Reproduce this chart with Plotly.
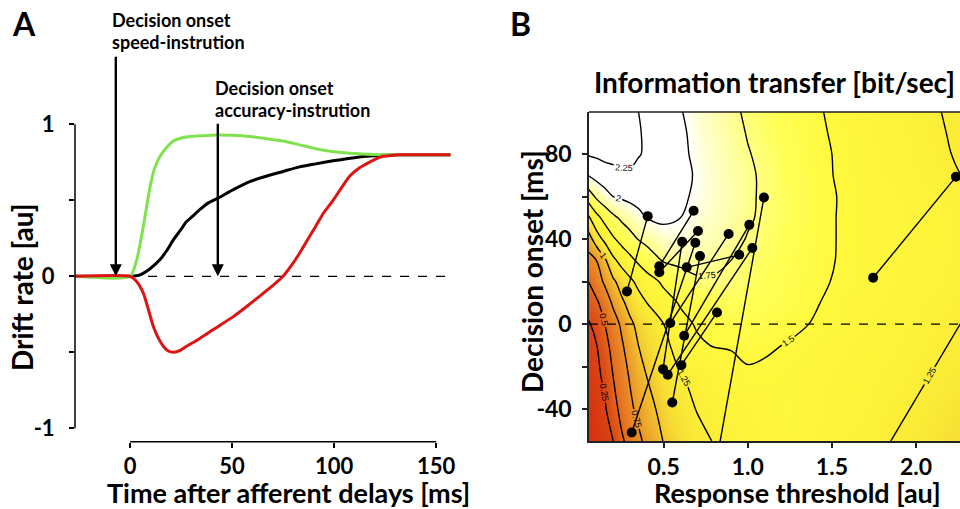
import plotly.graph_objects as go

# ---------------- Panel A data: drift rate over time ----------------
green_t = [-27, 0, 3.3, 6.5, 9.8, 12, 14.7, 18, 21.2, 25, 29.4, 35, 42.4, 50, 58.7, 67, 75, 83, 91, 100, 107.7, 116, 124, 132, 157]
green_v = [0, 0, 0.11, 0.33, 0.59, 0.71, 0.79, 0.85, 0.89, 0.91, 0.92, 0.925, 0.93, 0.928, 0.92, 0.905, 0.89, 0.865, 0.84, 0.82, 0.81, 0.803, 0.8, 0.8, 0.8]

black_t = [-27, 0, 4.9, 9.8, 14.7, 18, 21.2, 24.5, 27.7, 31, 34.3, 38, 42.4, 50.6, 58, 67, 75, 83, 91, 99.5, 107, 115.8, 124, 132, 157]
black_v = [0, 0, 0.01, 0.05, 0.11, 0.17, 0.24, 0.30, 0.36, 0.40, 0.44, 0.48, 0.51, 0.57, 0.62, 0.66, 0.69, 0.72, 0.74, 0.76, 0.775, 0.79, 0.797, 0.8, 0.8]

red_t = [-27, 0, 3, 6.5, 9, 11.4, 14, 16.3, 18.5, 21.2, 24, 27.7, 34, 40.8, 50.6, 57, 63.6, 70, 75, 79, 83, 87, 91, 95, 99.5, 104, 107.7, 112, 115.8, 120, 124, 128, 132, 140, 157]
red_v = [0, 0, -0.03, -0.11, -0.22, -0.33, -0.41, -0.46, -0.49, -0.5, -0.49, -0.46, -0.41, -0.35, -0.265, -0.2, -0.13, -0.06, 0, 0.07, 0.15, 0.24, 0.33, 0.42, 0.5, 0.59, 0.66, 0.71, 0.74, 0.77, 0.79, 0.795, 0.8, 0.8, 0.8]

onset_speed_ms = -7
onset_accuracy_ms = 43

a_xticks = [0, 50, 100, 150]
a_yticks = [-1, -0.5, 0, 0.5, 1]
a_yticklabels = ["-1", "", "0", "", "1"]

# ---------------- Panel B data: information transfer surface ----------------
threshold = [0.05, 0.1, 0.15, 0.2, 0.25, 0.3, 0.35, 0.4, 0.5, 0.6, 0.7, 0.8, 0.9, 1.0, 1.1, 1.25, 1.4, 1.55, 1.7, 1.85, 2.0, 2.15, 2.3]
onset = [-55, -40, -25, -10, 0, 10, 20, 30, 40, 50, 60, 70, 80, 90, 100]
info_m55 = [0.02, 0.10, 0.17, 0.25, 0.46, 0.59, 0.70, 0.81, 1.01, 1.10, 1.19, 1.26, 1.31, 1.36, 1.40, 1.44, 1.39, 1.34, 1.30, 1.25, 1.20, 1.15, 1.10]
info_m40 = [0.07, 0.15, 0.22, 0.40, 0.58, 0.70, 0.81, 0.92, 1.07, 1.17, 1.26, 1.30, 1.35, 1.39, 1.43, 1.47, 1.41, 1.37, 1.33, 1.28, 1.24, 1.18, 1.13]
info_m25 = [0.13, 0.20, 0.29, 0.50, 0.64, 0.77, 0.89, 1.00, 1.12, 1.24, 1.29, 1.34, 1.40, 1.48, 1.47, 1.45, 1.41, 1.38, 1.35, 1.31, 1.27, 1.23, 1.18]
info_m10 = [0.19, 0.24, 0.42, 0.58, 0.72, 0.86, 1.00, 1.07, 1.20, 1.33, 1.47, 1.51, 1.52, 1.53, 1.52, 1.49, 1.45, 1.41, 1.37, 1.34, 1.30, 1.26, 1.22]
info_0 = [0.22, 0.32, 0.50, 0.64, 0.79, 0.96, 1.05, 1.12, 1.25, 1.44, 1.52, 1.54, 1.56, 1.58, 1.57, 1.53, 1.49, 1.45, 1.40, 1.36, 1.32, 1.28, 1.24]
info_10 = [0.36, 0.46, 0.61, 0.79, 0.96, 1.07, 1.16, 1.25, 1.41, 1.52, 1.56, 1.61, 1.65, 1.64, 1.62, 1.57, 1.51, 1.46, 1.42, 1.38, 1.34, 1.30, 1.26]
info_20 = [0.49, 0.63, 0.79, 0.96, 1.09, 1.20, 1.31, 1.40, 1.54, 1.63, 1.72, 1.73, 1.72, 1.68, 1.64, 1.58, 1.53, 1.48, 1.44, 1.40, 1.37, 1.33, 1.29]
info_30 = [0.67, 0.75, 0.96, 1.20, 1.33, 1.44, 1.54, 1.63, 1.77, 1.81, 1.82, 1.79, 1.75, 1.71, 1.67, 1.60, 1.54, 1.49, 1.45, 1.41, 1.37, 1.34, 1.30]
info_40 = [0.87, 1.13, 1.31, 1.47, 1.58, 1.67, 1.76, 1.81, 1.91, 1.94, 1.91, 1.86, 1.80, 1.74, 1.69, 1.62, 1.55, 1.49, 1.45, 1.42, 1.38, 1.35, 1.31]
info_50 = [1.20, 1.42, 1.58, 1.70, 1.79, 1.86, 1.93, 2.00, 2.04, 2.00, 1.94, 1.89, 1.83, 1.77, 1.72, 1.64, 1.55, 1.49, 1.45, 1.42, 1.38, 1.35, 1.31]
info_60 = [1.60, 1.79, 1.90, 2.00, 2.03, 2.06, 2.09, 2.12, 2.09, 2.03, 1.97, 1.91, 1.85, 1.78, 1.72, 1.64, 1.56, 1.49, 1.45, 1.41, 1.37, 1.33, 1.29]
info_70 = [2.00, 2.08, 2.15, 2.18, 2.22, 2.23, 2.20, 2.17, 2.12, 2.05, 1.98, 1.91, 1.84, 1.78, 1.72, 1.63, 1.55, 1.48, 1.43, 1.38, 1.33, 1.29, 1.24]
info_80 = [2.27, 2.29, 2.31, 2.32, 2.31, 2.29, 2.26, 2.23, 2.14, 2.04, 1.96, 1.90, 1.83, 1.76, 1.71, 1.62, 1.54, 1.48, 1.42, 1.37, 1.32, 1.27, 1.22]
info_90 = [2.40, 2.40, 2.38, 2.35, 2.31, 2.28, 2.26, 2.23, 2.13, 2.03, 1.95, 1.88, 1.81, 1.74, 1.68, 1.61, 1.53, 1.47, 1.41, 1.36, 1.31, 1.26, 1.21]
info_100 = [2.45, 2.43, 2.40, 2.36, 2.32, 2.28, 2.25, 2.20, 2.11, 2.01, 1.93, 1.86, 1.79, 1.72, 1.67, 1.59, 1.52, 1.46, 1.40, 1.35, 1.30, 1.25, 1.20]

# per-subject estimates (accuracy vs speed instruction)
acc_thr = [0.405, 0.678, 0.704, 0.61, 0.688, 0.716, 0.949, 0.886, 1.009, 1.027, 1.096, 0.817, 2.237]
acc_onset = [50.8, 53.3, 43.8, 38.7, 38.3, 32.0, 32.6, 42.4, 46.7, 35.8, 59.6, 5.5, 69.3]
spd_thr = [0.282, 0.474, 0.474, 0.496, 0.31, 0.551, 0.637, 0.539, 0.622, 0.524, 0.82, 0.605, 1.745]
spd_onset = [15.4, 27.2, 24.4, -21.2, -51.0, -36.9, 26.7, 0.5, -5.5, -23.8, -62.0, -19.3, 21.8]

b_xticks = [0.5, 1.0, 1.5, 2.0]
b_xticklabels = ["0.5", "1.0", "1.5", "2.0"]
b_yticks = [-40, -20, 0, 20, 40, 60, 80]
b_yticklabels = ["-40", "", "0", "", "40", "", "80"]

FONT = "Lato"
W, H = 960, 509

def px_x(p):
    return p / W

def px_y(p):
    return 1 - p / H

fig = go.Figure()

# ---- Panel A traces
for tt, vv, col in [(black_t, black_v, "black"), (green_t, green_v, "#80e24e"), (red_t, red_v, "#dc1414")]:
    fig.add_trace(go.Scatter(x=tt, y=vv, mode="lines",
                             line=dict(color=col, width=3, shape="spline", smoothing=0.6),
                             xaxis="x", yaxis="y", hoverinfo="skip"))

# ---- Panel B surface
info = [info_m55, info_m40, info_m25, info_m10, info_0, info_10, info_20, info_30, info_40, info_50, info_60, info_70, info_80, info_90, info_100]
zmax = 2.45
cs_stops = [(0.0, "#d42c0c"), (0.25, "#da4414"), (0.5, "#e2681e"), (0.75, "#ea9228"), (1.0, "#f2c430"),
            (1.1, "#f7de34"), (1.2, "#faea36"), (1.35, "#fdf43a"), (1.5, "#fff93e"), (1.65, "#ffff58"),
            (1.8, "#ffff98"), (1.92, "#ffffcc"), (2.0, "#ffffff"), (zmax, "#ffffff")]
cs = [[v / zmax, c] for v, c in cs_stops]
fig.add_trace(go.Contour(
    x=threshold, y=onset, z=info, xaxis="x2", yaxis="y2",
    colorscale=cs, zmin=0, zmax=zmax, showscale=False,
    contours=dict(start=0.25, end=2.25, size=0.25, coloring="heatmap", showlabels=True,
                  labelfont=dict(size=9, color="black", family="Liberation Sans")),
    line=dict(color="black", width=1.4, smoothing=1.0),
    hoverinfo="skip",
))

# subject lines
lx, ly = [], []
for a, b, c, d in zip(acc_thr, acc_onset, spd_thr, spd_onset):
    lx += [a, c, None]
    ly += [b, d, None]
fig.add_trace(go.Scatter(x=lx, y=ly, mode="lines", line=dict(color="black", width=1.4),
                         xaxis="x2", yaxis="y2", hoverinfo="skip"))
fig.add_trace(go.Scatter(x=acc_thr + spd_thr, y=acc_onset + spd_onset, mode="markers",
                         marker=dict(color="black", size=10), xaxis="x2", yaxis="y2", hoverinfo="skip"))

tickfont_a = dict(family=FONT, size=22, color="black", weight="bold")
tickfont_b = dict(family=FONT, size=23, color="black", weight="bold")

# axes geometry (pixel based)
ax_left, ax_right = 75, 456.5
ay_top, ay_bot = 121.3, 441.7
bx_left = 589
by_top, by_bot = 112, 441

fig.update_layout(
    width=W, height=H, margin=dict(l=0, r=0, t=0, b=0, autoexpand=False),
    paper_bgcolor="white", plot_bgcolor="white", showlegend=False,
    xaxis=dict(domain=[px_x(ax_left), px_x(ax_right)], range=[-27, 160], anchor="y",
               tickvals=a_xticks, ticks="outside", ticklen=5, tickwidth=1.5, tickcolor="black",
               showline=False, showgrid=False, zeroline=False, tickfont=tickfont_a, ticklabelstandoff=0),
    yaxis=dict(domain=[px_y(ay_bot), px_y(ay_top)], range=[-1.088, 1.02], anchor="x",
               tickvals=a_yticks, ticktext=a_yticklabels, ticks="outside", ticklen=5, tickwidth=1.5,
               tickcolor="black", showline=False, showgrid=False, zeroline=False, tickfont=tickfont_a,
               ticklabelstandoff=10),
    xaxis2=dict(domain=[px_x(bx_left), 1.0], range=[0.0561, 2.2614], anchor="y2",
                tickvals=b_xticks, ticktext=b_xticklabels, ticks="outside", ticklen=5, tickwidth=1.5,
                tickcolor="#222", showline=True, linecolor="#222", linewidth=1.5, showgrid=False,
                zeroline=False, tickfont=tickfont_b, ticklabelstandoff=0),
    yaxis2=dict(domain=[px_y(by_bot), px_y(by_top)], range=[-55, 99.8], anchor="x2",
                tickvals=b_yticks, ticktext=b_yticklabels, ticks="outside", ticklen=5, tickwidth=1.5,
                tickcolor="#222", showline=True, linecolor="#222", linewidth=1.5, showgrid=False,
                zeroline=False, tickfont=tickfont_b, ticklabelstandoff=6),
)

shapes = [
    dict(type="line", xref="x domain", yref="y", x0=0, x1=0, y0=-1, y1=1, line=dict(color="black", width=1.5)),
    dict(type="line", xref="x", yref="y domain", x0=0, x1=150, y0=0, y1=0, line=dict(color="black", width=1.5)),
    dict(type="line", xref="x", yref="y", x0=0, x1=max(red_t), y0=0, y1=0,
         line=dict(color="black", width=1.3, dash="dash"), layer="below"),
    dict(type="line", xref="x2 domain", yref="y2 domain", x0=0, x1=1, y0=1, y1=1, line=dict(color="#222", width=1.5)),
    dict(type="line", xref="x2 domain", yref="y2", x0=0, x1=1, y0=0, y1=0, line=dict(color="black", width=1.4, dash="dash")),
]
fig.update_layout(shapes=shapes)

ann = []
ann.append(dict(x=onset_speed_ms, y=0, xref="x", yref="y", ax=0, ay=-221, showarrow=True, text="",
                arrowhead=2, arrowsize=1, arrowwidth=2.4, arrowcolor="black", standoff=0))
ann.append(dict(x=onset_accuracy_ms, y=0, xref="x", yref="y", ax=0, ay=-154, showarrow=True, text="",
                arrowhead=2, arrowsize=1, arrowwidth=2.4, arrowcolor="black", standoff=0))

def txt(t, x, y, size, xanchor="center", yanchor="middle", angle=0):
    return dict(text=t, x=px_x(x), y=px_y(y), xref="paper", yref="paper", showarrow=False,
                xanchor=xanchor, yanchor=yanchor, textangle=angle,
                font=dict(family=FONT, size=size, color="black", weight="bold"))

ann += [
    txt("Decision onset", 110, 20, 18, xanchor="left"),
    txt("speed-instrution", 110, 42, 18, xanchor="left"),
    txt("Decision onset", 213, 88, 18, xanchor="left"),
    txt("accuracy-instrution", 213, 110, 18, xanchor="left"),
    txt("A", 24, 24, 32),
    txt("B", 520, 24, 32),
    txt("Drift rate [au]", 22, 287, 28, angle=-90),
    txt("Time after afferent delays [ms]", 288, 492, 27),
    txt("Information transfer [bit/sec]", 774, 82, 28),
    txt("Decision onset [ms]", 532, 272, 28, angle=-90),
    txt("Response threshold [au]", 797, 492, 27),
]
fig.update_layout(annotations=ann)

fig.write_html("out.html", config={"displayModeBar": False},
               post_script="document.body.style.margin='0px';document.body.style.overflow='hidden';")
